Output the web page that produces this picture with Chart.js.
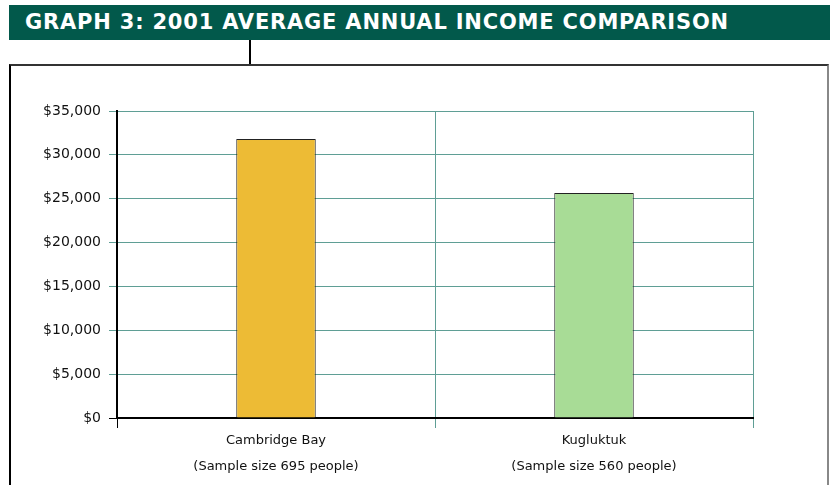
<!doctype html>
<html lang="en">
<head>
<meta charset="utf-8">
<title>Graph 3: 2001 Average Annual Income Comparison</title>
<style>
  body { margin: 0; width: 830px; height: 485px; overflow: hidden; background: #fff; position: relative; }
  .banner { position: absolute; left: 9px; top: 5px; width: 821px; height: 35px; background: #02594b;
            color: #fff; font: bold 21px "DejaVu Sans", sans-serif; line-height: 35px; padding-left: 16px; box-sizing: border-box; letter-spacing: 0.8px; }
  .connector { position: absolute; left: 249px; top: 40px; width: 2px; height: 25px; background: #000; }
  .box { position: absolute; left: 9px; top: 64px; width: 820px; height: 440px; border-left: 2px solid #000;
         border-top: 2px solid #333; border-right: 2px solid #888; box-sizing: border-box; }
  #wrap { position: absolute; left: 0; top: 0; width: 830px; height: 485px; }
</style>
</head>
<body>
<div class="banner">GRAPH 3: 2001 AVERAGE ANNUAL INCOME COMPARISON</div>
<div class="connector"></div>
<div class="box"></div>
<div id="wrap"><canvas id="incomeChart" width="830" height="485"></canvas></div>

<script src="https://cdn.jsdelivr.net/npm/chart.js"></script>
<script>
// chart data
const communities = [
  ['Cambridge Bay', '(Sample size 695 people)'],
  ['Kugluktuk', '(Sample size 560 people)']
];
const avgIncome = [31800, 25650];
const barColors = ['#edbb35', '#a8dc96'];
const yTicks = [0, 5000, 10000, 15000, 20000, 25000, 30000, 35000];

const teal = '#5f9e95';

new Chart(document.getElementById('incomeChart'), {
  type: 'bar',
  data: {
    labels: communities,
    datasets: [{
      data: avgIncome,
      backgroundColor: barColors,
      borderColor: '#222',
      borderWidth: 1,
      barPercentage: 0.5,
      categoryPercentage: 0.5
    }]
  },
  options: {
    responsive: false,
    animation: false,
    events: [],
    layout: { padding: { top: 111, right: 77, left: 0, bottom: 0 } },
    plugins: { legend: { display: false }, tooltip: { enabled: false } },
    scales: {
      x: {
        grid: {
          offset: true,
          color: teal,
          lineWidth: 1,
          tickLength: 10,
          tickColor: ctx => ctx.index === 0 ? '#000' : teal
        },
        border: { color: '#000', width: 2 },
        ticks: {
          color: '#111',
          padding: 0,
          font: { family: 'DejaVu Sans', size: 13, lineHeight: 2 }
        },
        afterFit: s => { s.height = 67; }
      },
      y: {
        min: 0,
        max: 35000,
        afterBuildTicks: s => { s.ticks = yTicks.map(v => ({ value: v })); },
        grid: {
          color: teal,
          lineWidth: 1,
          tickLength: 8,
          tickColor: ctx => ctx.tick && ctx.tick.value === 0 ? '#000' : teal
        },
        border: { color: '#000', width: 2 },
        ticks: {
          color: '#111',
          padding: 8,
          font: { family: 'DejaVu Sans', size: 14 },
          callback: v => '$' + v.toLocaleString('en-US')
        },
        afterFit: s => { s.width = 117; }
      }
    }
  }
});
</script>
</body>
</html>
